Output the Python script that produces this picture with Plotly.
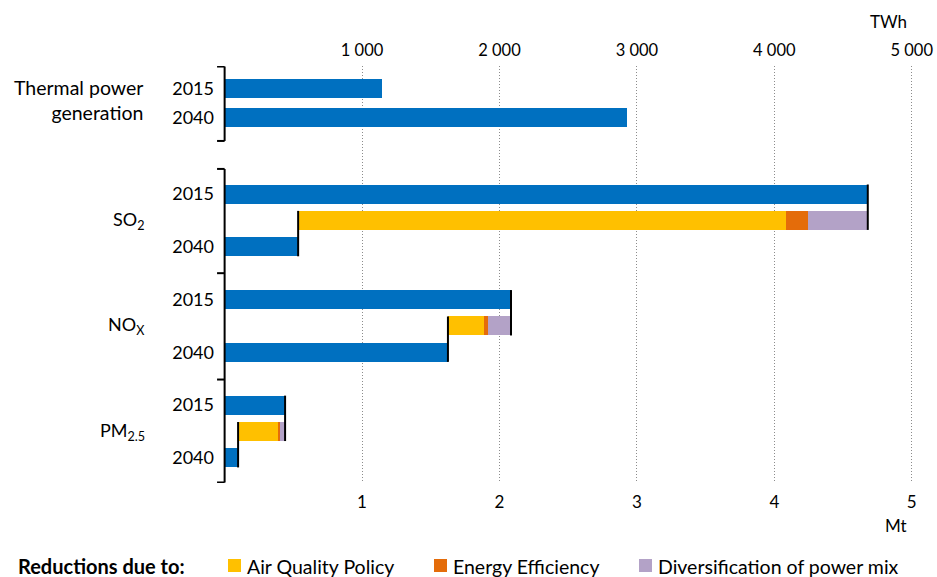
import plotly.graph_objects as go

# ---- data ----
years = ["2015", "2040"]
thermal_twh = [1145, 2930]               # thermal power generation, TWh

pollutants = ["SO<sub>2</sub>", "NO<sub>X</sub>", "PM<sub>2.5</sub>"]
emis_2015 = [4.68, 2.084, 0.44]          # Mt
emis_2040 = [0.535, 1.625, 0.098]        # Mt
red_air_quality = [3.55, 0.262, 0.29]    # Mt
red_efficiency = [0.16, 0.029, 0.015]    # Mt
red_diversification = [0.435, 0.168, 0.036]  # Mt

reduction_names = ["Air Quality Policy", "Energy Efficiency",
                   "Diversification of power mix"]

mt_ticks = [1, 2, 3, 4, 5]
mt_ticktext = ["1", "2", "3", "4", "5"]
twh_ticks = [1000, 2000, 3000, 4000, 5000]
twh_ticktext = ["1 000", "2 000", "3 000", "4 000", "5 000"]

# ---- styling ----
FONT = "Lato, 'Open Sans', sans-serif"
BLUE = "#0070C0"
YELLOW = "#FFC000"
ORANGE = "#E46C0A"
PURPLE = "#B3A2C7"
RED_COLORS = [YELLOW, ORANGE, PURPLE]
BAR_W = 0.72

W, H = 937, 577
ML, MR, MT, MB = 215, 17, 66, 94
PW, PH = W - ML - MR, H - MT - MB


def px_x(px):
    """Horizontal pixel position -> paper coordinate."""
    return (px - ML) / PW


def px_y(py):
    """Vertical pixel position -> paper coordinate."""
    return (H - MB - py) / PH


# row positions on the (reversed) y axis
thermal_rows = [0, 1.1]
rows_2015 = [4, 8, 12]
rows_red = [5, 9, 13]
rows_2040 = [6, 10, 14]

fig = go.Figure()

# thermal generation bars (top axis, TWh)
fig.add_trace(go.Bar(
    y=thermal_rows, x=thermal_twh, orientation="h", width=BAR_W,
    marker=dict(color=BLUE, line=dict(width=0)), xaxis="x2", yaxis="y",
    showlegend=False, hoverinfo="x"))

# emissions 2015 and 2040 (bottom axis, Mt)
fig.add_trace(go.Bar(
    y=rows_2015 + rows_2040, x=emis_2015 + emis_2040, orientation="h",
    width=BAR_W, marker=dict(color=BLUE, line=dict(width=0)),
    showlegend=False, hoverinfo="x"))

# reductions stacked from the 2040 level upwards
reductions = [red_air_quality, red_efficiency, red_diversification]
base = list(emis_2040)
for name, color, vals in zip(reduction_names, RED_COLORS, reductions):
    fig.add_trace(go.Bar(
        y=rows_red, x=vals, base=list(base), orientation="h", width=BAR_W,
        marker=dict(color=color, line=dict(width=0)), name=name,
        showlegend=False, hoverinfo="name+x"))
    base = [b + v for b, v in zip(base, vals)]

shapes = []
half = BAR_W / 2
# connector lines at the end of the 2015 and 2040 bars
for r15, rr, r40, v15, v40 in zip(rows_2015, rows_red, rows_2040,
                                  emis_2015, emis_2040):
    shapes.append(dict(type="line", xref="x", yref="y", x0=v15, x1=v15,
                       y0=r15 - half, y1=rr + half,
                       line=dict(color="black", width=2)))
    shapes.append(dict(type="line", xref="x", yref="y", x0=v40, x1=v40,
                       y0=rr - half, y1=r40 + half,
                       line=dict(color="black", width=2)))

# group brackets along the value axis origin
TICK = -0.055
brackets = [(-0.83, 1.99), (3.05, 14.93)]
for y0, y1 in brackets:
    shapes.append(dict(type="line", xref="x", yref="y", x0=0, x1=0,
                       y0=y0, y1=y1, line=dict(color="black", width=2)))
for yt in [-0.83, 1.99, 3.05, 7.0, 11.03, 14.93]:
    shapes.append(dict(type="line", xref="x", yref="y", x0=TICK, x1=0,
                       y0=yt, y1=yt, line=dict(color="black", width=2)))

annotations = [
    dict(text="Thermal power<br>generation", xref="paper", yref="y",
         x=px_x(145), y=0.45, xanchor="right", yanchor="middle",
         align="right", showarrow=False, font=dict(size=19.5, color="#000")),
]
for name, rr in zip(pollutants, rows_red):
    annotations.append(dict(text=name, xref="paper", yref="y", x=px_x(147),
                            y=rr, xanchor="right", yanchor="middle",
                            showarrow=False, font=dict(size=18, color="#000")))
annotations += [
    dict(text="TWh", xref="paper", yref="paper", x=px_x(909), y=px_y(21),
         xanchor="right", yanchor="middle", showarrow=False,
         font=dict(size=17, color="#000")),
    dict(text="Mt", xref="paper", yref="paper", x=px_x(909), y=px_y(525),
         xanchor="right", yanchor="middle", showarrow=False,
         font=dict(size=17, color="#000")),
]

# key along the bottom
LEG_Y = 566
annotations.append(dict(text="<b>Reductions due to:</b>", xref="paper",
                        yref="paper", x=px_x(16), y=px_y(LEG_Y),
                        xanchor="left", yanchor="middle", showarrow=False,
                        font=dict(size=20, color="#000")))
key_x = [228, 434, 639]
for name, color, kx in zip(reduction_names, RED_COLORS, key_x):
    shapes.append(dict(type="rect", xref="paper", yref="paper",
                       x0=px_x(kx), x1=px_x(kx + 13),
                       y0=px_y(LEG_Y - 7), y1=px_y(LEG_Y + 6),
                       fillcolor=color, line=dict(width=0)))
    annotations.append(dict(text=name, xref="paper", yref="paper",
                            x=px_x(kx + 17), y=px_y(LEG_Y), xanchor="left",
                            yanchor="middle", showarrow=False,
                            font=dict(size=19.5, color="#000")))

fig.update_layout(
    width=W, height=H, autosize=False,
    margin=dict(l=ML, r=MR, t=MT, b=MB, autoexpand=False),
    paper_bgcolor="white", plot_bgcolor="white",
    font=dict(family=FONT, size=18, color="#000"),
    barmode="overlay",
    bargap=0,
    showlegend=False,
    xaxis=dict(range=[-0.07, 5.06], tickvals=mt_ticks, ticktext=mt_ticktext,
               showgrid=True, gridcolor="#8c8c8c", gridwidth=1,
               griddash="1px,2px", zeroline=False, showline=False,
               ticks="", tickfont=dict(size=17), ticklabelstandoff=7,
               automargin=False, fixedrange=True),
    xaxis2=dict(range=[-70, 5060], overlaying="x", side="top",
                tickvals=twh_ticks, ticktext=twh_ticktext, showgrid=False,
                zeroline=False, showline=False, ticks="",
                tickfont=dict(size=16.5), ticklabelstandoff=6,
                automargin=False, fixedrange=True),
    yaxis=dict(range=[14.95, -0.85],
               tickvals=thermal_rows + rows_2015 + rows_2040,
               ticktext=years + ["2015"] * 3 + ["2040"] * 3,
               showgrid=False, zeroline=False, showline=False, ticks="",
               tickfont=dict(size=18), automargin=False, fixedrange=True),
    shapes=shapes,
    annotations=annotations,
)

fig.write_html("out.html", config={"responsive": False})
